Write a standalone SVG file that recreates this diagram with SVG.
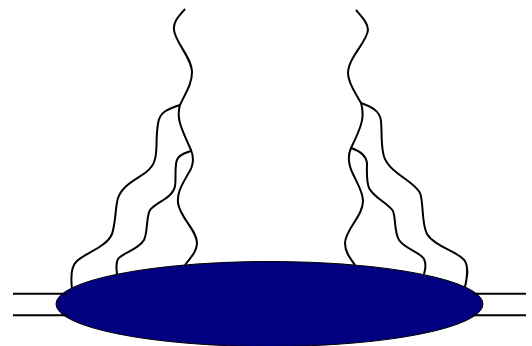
<svg xmlns="http://www.w3.org/2000/svg" width="532" height="346" viewBox="0 0 532 346">
<style>
.w{fill:none;stroke:#000;stroke-width:2;stroke-linecap:butt}
.blob{fill:#000080;stroke:#000;stroke-width:1}
</style>
<rect width="532" height="346" fill="#fff"/>
<g id="blob"><ellipse class="blob" cx="269.5" cy="304" rx="213.5" ry="42.5"/></g>
<g id="connectors">
<path class="w" d="M13 293.7H67M13 315.3H67M473 293.7H526M473 315.3H526"/>
<path class="w" d="M185 9C178 17 173 22 174 30C175 42 192 58 192 72C192 84 186 92 180 105C176 118 181 128 191 150C195 160 193 167 188 174C182 185 177 192 178 203C180 218 197 230 197 243C197 252 190 258 185 265"/>
<path class="w" d="M180 105C168 109 159 112 158 124C156 135 157 145 156 153C155 165 150 169 145 173C135 180 122 186 118 198C115 208 116 222 112 234C106 248 84 253 76 262C70 268 71 280 72 289"/>
<path class="w" d="M191 151C181 154 176 157 176 165C175 172 176 180 175 186C173 198 156 202 150 210C146 217 148 232 144 240C138 250 122 253 118 259C115 264 117 270 117 275"/>
<path class="w" d="M356 10C362 17 368 23 368 30C367 42 348 58 348 73C348 84 357 95 361 103C365 116 362 126 351 148C347 157 349 166 353 174C358 185 363 192 363 201C363 216 345 230 345 243C345 252 350 258 355 265"/>
<path class="w" d="M361 103C372 107 380 111 381 121C382 132 381 142 383 152C385 172 414 180 420 193C424 203 421 222 427 234C435 247 458 251 465 261C469 268 467 278 465 287"/>
<path class="w" d="M351 148C360 151 366 155 367 163C367 171 366 180 369 188C374 198 388 203 393 211C396 219 394 231 399 240C405 249 420 252 424 259C427 265 425 270 424 274"/>
</g>
</svg>
